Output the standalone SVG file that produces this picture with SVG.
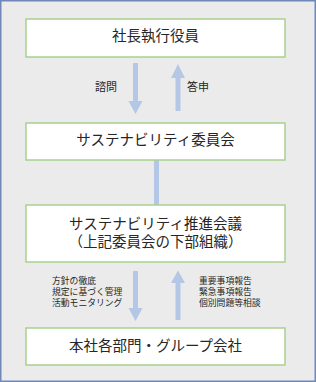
<svg xmlns="http://www.w3.org/2000/svg" width="316" height="382" viewBox="0 0 316 382">
<style>
.box{fill:#ffffff;stroke:#a9d18e;stroke-width:1.5}
.t{font-family:"Noto Sans CJK JP","Noto Sans CJK SC",sans-serif;font-size:14.5px;fill:#262626;text-anchor:middle}
.l{font-family:"Noto Sans CJK JP","Noto Sans CJK SC",sans-serif;font-size:11px;fill:#262626}
.s{font-family:"Noto Sans CJK JP","Noto Sans CJK SC",sans-serif;font-size:8.8px;fill:#262626}
.a{fill:#b4c7e7}
</style>
<rect x="0.75" y="0.75" width="314.5" height="380.5" fill="#ebebeb" stroke="#7088b8" stroke-width="1.5"/>
<g id="connectors">
<polygon class="a" points="133,63 138,63 138,101 142.5,101 135.5,114 128.5,101 133,101"/>
<polygon class="a" points="175.5,111 180.5,111 180.5,78 185,78 178,64 171,78 175.5,78"/>
<rect class="a" x="154" y="160" width="5" height="45"/>
<polygon class="a" points="133,271 138,271 138,308 142.5,308 135.5,321 128.5,308 133,308"/>
<polygon class="a" points="175.5,320 180.5,320 180.5,283 185,283 178,270.5 171,283 175.5,283"/>
<text class="l" x="95" y="91">諮問</text>
<text class="l" x="187" y="91">答申</text>
<text class="s" x="52" y="284">方針の徹底</text>
<text class="s" x="52" y="295">規定に基づく管理</text>
<text class="s" x="52" y="305.5">活動モニタリング</text>
<text class="s" x="199" y="284">重要事項報告</text>
<text class="s" x="199" y="295">緊急事項報告</text>
<text class="s" x="199" y="305.5">個別問題等相談</text>
</g>
<g id="n1">
<rect class="box" x="26" y="19" width="259" height="38"/>
<text class="t" x="155.5" y="41">社長執行役員</text>
</g>
<g id="n2">
<rect class="box" x="26" y="123" width="259" height="37"/>
<text class="t" x="155.5" y="145">サステナビリティ委員会</text>
</g>
<g id="n3">
<rect class="box" x="26" y="205" width="259" height="57"/>
<text class="t" x="155.5" y="229">サステナビリティ推進会議</text>
<text class="t" x="155.5" y="247">（上記委員会の下部組織）</text>
</g>
<g id="n4">
<rect class="box" x="26" y="328" width="259" height="37"/>
<text class="t" x="155.5" y="351">本社各部門・グループ会社</text>
</g>
</svg>
